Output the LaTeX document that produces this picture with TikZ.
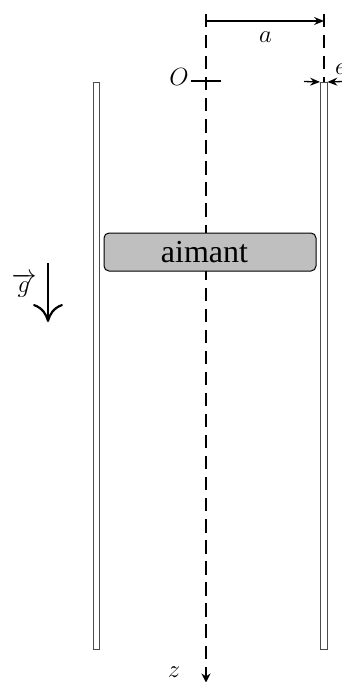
\documentclass[tikz,border=0pt]{standalone}
\usepackage{fontspec}
\setmainfont{Liberation Serif}
\usetikzlibrary{arrows.meta}
\tikzset{
  x=1pt,y=-1pt,
  axisline/.style={line width=2pt,dash pattern=on 13.3pt off 7.75pt},
  wall/.style={draw=black!70,fill=white,line width=0.9pt},
  dimline/.style={line width=1.3pt,-{Stealth[length=10pt,width=8pt,inset=3.5pt]}},
  plain/.style={line width=2pt},
  lbl/.style={inner sep=0pt,font=\fontsize{24}{28}\selectfont}
}
\begin{document}
\begin{tikzpicture}
\useasboundingbox (0,0) rectangle (342,682);
\clip (0,0) rectangle (342,682);
\coordinate (axT) at (206,14);
\coordinate (axB) at (206,672);
\coordinate (axEnd) at (206,682.5);
\coordinate (rT) at (323.5,14);
\coordinate (rB) at (323.5,82);
\draw[axisline] (axT) -- (axB);
\draw[line width=1.8pt,-{Stealth[length=9pt,width=9pt,inset=3pt]}] (axB) -- (axEnd);
\draw[axisline] (rT) -- (rB);
\node[wall,minimum width=6.5pt,minimum height=567pt,inner sep=0pt,anchor=north west] (wl) at (92.5,82) {};
\node[wall,minimum width=6.5pt,minimum height=567pt,inner sep=0pt,anchor=north west] (wr) at (320,82) {};
\node[draw=black,fill=black!25,line width=1pt,rounded corners=5pt,minimum width=212pt,minimum height=38pt,inner sep=0pt] (m) at (210,252) {};
\node[inner sep=0pt,font=\fontsize{32}{36}\selectfont] (mt) at (204.5,252) {aimant};
\coordinate (aL) at (206,21);
\coordinate (aR) at (324,21);
\draw[dimline] (aL) -- (aR);
\node[lbl] (a) at (265.5,37) {$a$};
\node[lbl] (O) at (179,77) {$O$};
\coordinate (cL) at (191,81.5);
\coordinate (cR) at (221,81.5);
\draw[plain] (cL) -- (cR);
\coordinate (eL) at (304,81.5);
\coordinate (eR) at (343,81.5);
\draw[dimline] (eL) -- (wr.north west);
\draw[dimline] (eR) -- (wr.north east);
\node[lbl,anchor=west] (e) at (335,69) {$e$};
\coordinate (gT) at (48,263);
\coordinate (gB) at (48,322);
\draw[line width=2.2pt,-{Computer Modern Rightarrow[length=18pt,width=30pt]}] (gT) -- (gB);
\node[lbl] (g) at (24,285) {$\overrightarrow{g}$};
\node[lbl] (z) at (174,672) {$z$};
\end{tikzpicture}
\end{document}
